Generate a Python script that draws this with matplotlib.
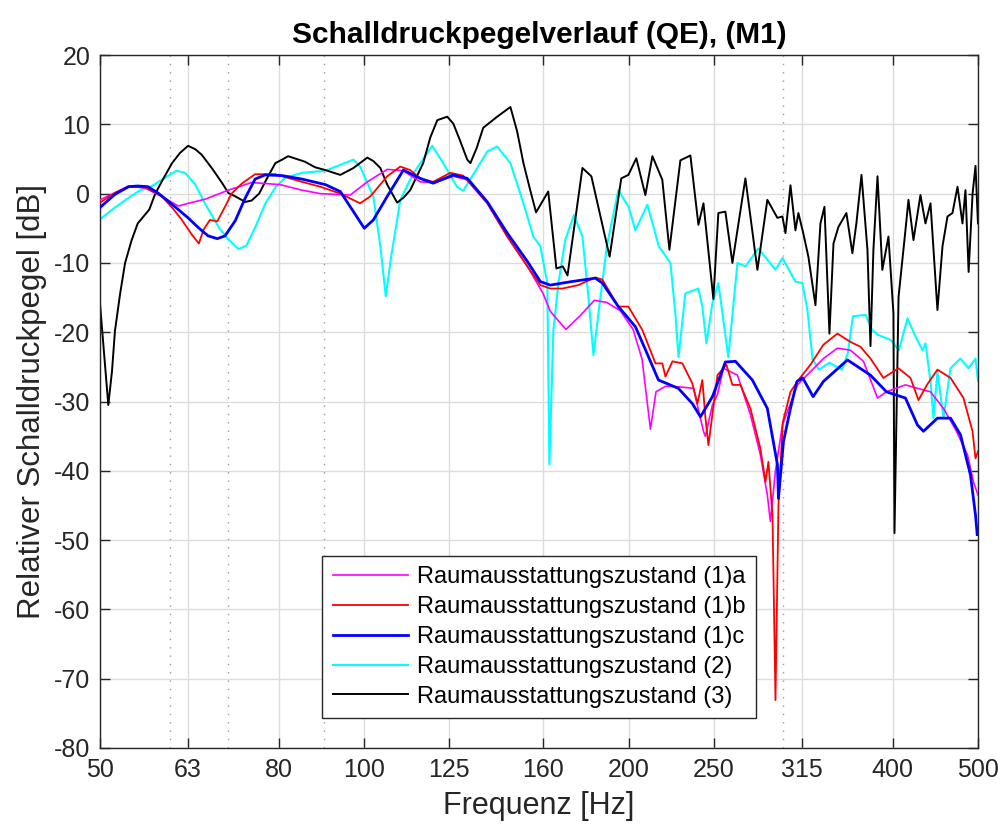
import matplotlib
matplotlib.use("Agg")
import matplotlib.pyplot as plt
from matplotlib.ticker import NullLocator

# Fonts (MATLAB look -> Arial-like)
plt.rcParams['font.family'] = ['Liberation Sans', 'DejaVu Sans']
plt.rcParams['axes.unicode_minus'] = False

# ---- Data (frequency in Hz, level in dB) ----
f_1a = [50.0, 53.9, 56.3, 58.8, 61.4, 63.0, 65.9, 70.0, 74.4, 80.2, 84.9, 89.1, 96.4, 100.8,
        106.2, 110.8, 115.8, 119.8, 126.3, 131.0, 138.1, 145.5, 153.4, 159.8, 162.9, 169.7,
        176.2, 182.8, 188.9, 195.7, 202.4, 207.2, 211.8, 214.9, 220.3, 229.1, 237.1, 243.4,
        244.6, 249.2, 252.5, 256.5, 266.1, 275.3, 282.6, 287.8, 290.1, 294.0, 299.4, 311.4,
        322.2, 333.4, 345.9, 357.9, 370.3, 384.2, 393.3, 413.4, 426.7, 441.5, 456.8, 472.6,
        486.5, 494.2, 500.0]
db_1a = [-0.9, 1.1, 0.8, -0.4, -1.8, -1.4, -0.8, 0.5, 1.6, 1.3, 0.5, 0.0, -0.2, 1.7,
         3.5, 3.3, 1.7, 1.6, 2.5, 2.0, -1.4, -6.2, -10.5, -14.4, -17.0, -19.6,
         -17.6, -15.4, -15.7, -16.9, -19.6, -23.9, -34.0, -28.6, -27.8, -27.9, -28.1, -34.3,
         -35.0, -30.5, -29.0, -25.2, -26.2, -31.9, -37.7, -43.5, -47.3, -40.0, -33.4, -27.6,
         -25.7, -23.8, -22.3, -22.6, -24.2, -29.5, -28.6, -27.6, -28.1, -28.6, -31.0, -34.3,
         -37.7, -41.6, -43.5]

f_1b = [50.0, 52.0, 53.9, 56.3, 58.8, 60.4, 61.9, 63.6, 64.8, 65.6, 66.7, 68.0, 69.4, 70.6,
        72.6, 75.1, 79.2, 84.9, 89.1, 93.9, 98.9, 101.6, 106.2, 109.9, 112.8, 115.8, 119.8,
        125.3, 129.6, 138.1, 145.5, 153.4, 158.7, 162.9, 168.1, 175.3, 183.3, 186.7, 194.7,
        199.9, 207.4, 214.6, 218.5, 220.3, 224.4, 230.3, 236.4, 239.6, 242.7, 244.6, 246.6,
        252.5, 258.5, 262.6, 268.2, 275.3, 282.6, 286.4, 288.6, 291.7, 294.0, 296.3, 299.7,
        305.8, 312.2, 322.2, 333.4, 345.9, 357.9, 367.4, 377.2, 390.2, 405.9, 418.9, 427.8,
        437.4, 449.6, 465.3, 481.4, 492.9, 496.8, 500.0]
db_1b = [-1.3, 0.1, 1.0, 0.9, -0.4, -2.0, -3.7, -5.9, -7.2, -5.2, -3.8, -4.0, -1.9, 0.0,
         1.5, 2.8, 2.8, 1.7, 1.0, 0.0, -1.4, -0.4, 2.5, 3.9, 3.4, 2.2, 1.7,
         3.0, 2.6, -1.4, -6.2, -10.5, -13.2, -13.7, -13.7, -13.2, -12.1, -12.4, -16.3,
         -16.3, -19.7, -24.5, -24.5, -26.4, -24.2, -24.5, -27.4, -30.3, -26.9, -32.2, -36.3,
         -26.2, -24.7, -27.6, -27.6, -31.0, -36.8, -41.6, -38.7, -46.4, -73.1, -45.0, -33.0,
         -28.6, -26.9, -24.7, -21.8, -20.2, -21.4, -22.1, -23.8, -26.6, -25.2, -26.6, -29.8,
         -27.6, -25.4, -26.6, -29.5, -34.3, -38.2, -37.2]

f_1c = [50.0, 52.0, 53.9, 55.2, 56.7, 58.2, 59.8, 61.4, 63.0, 64.7, 66.4, 68.0, 69.4, 71.3,
        73.2, 75.1, 77.1, 80.6, 84.9, 90.3, 93.9, 97.2, 100.0, 102.4, 106.2, 110.8, 115.8,
        119.8, 126.3, 131.0, 138.1, 145.5, 153.4, 158.7, 162.9, 172.1, 183.3, 186.7, 194.7,
        203.6, 209.0, 216.3, 227.9, 236.4, 241.5, 249.2, 257.8, 264.7, 276.7, 287.8, 295.5,
        296.3, 300.2, 305.8, 311.0, 315.8, 324.5, 333.4, 355.1, 377.2, 393.3, 413.4, 426.7,
        433.4, 449.6, 465.3, 477.6, 490.3, 496.8, 499.0]
db_1c = [-2.0, -0.1, 1.0, 1.1, 1.0, 0.1, -1.1, -2.3, -3.5, -4.9, -6.1, -6.5, -6.1, -3.9,
         -0.6, 2.1, 2.7, 2.6, 2.1, 1.3, 0.3, -2.6, -5.0, -3.8, -0.4, 3.4, 2.2,
         1.5, 2.7, 2.2, -1.2, -5.7, -9.8, -12.7, -13.2, -12.7, -12.2, -12.9, -16.3,
         -19.2, -22.5, -26.9, -28.1, -30.3, -32.2, -29.3, -24.3, -24.2, -26.9, -31.0, -39.1,
         -44.0, -35.8, -31.0, -27.1, -26.6, -29.3, -27.1, -24.0, -26.2, -28.6, -29.5, -33.4,
         -34.3, -32.4, -32.4, -34.8, -40.6, -46.4, -49.2]

f_2 = [50.0, 52.0, 53.9, 55.4, 57.3, 59.3, 61.1, 62.5, 64.2, 65.9, 68.3, 70.0, 71.9, 73.4,
       75.1, 77.1, 79.2, 81.3, 84.9, 90.3, 97.2, 98.9, 102.4, 104.3, 105.8, 107.3, 109.9,
       113.7, 119.5, 123.0, 127.5, 129.6, 132.7, 138.1, 141.7, 146.7, 151.8, 155.8, 158.7,
       161.6, 162.5, 164.2, 166.4, 169.4, 173.3, 177.2, 180.0, 182.4, 184.8, 188.9, 194.7,
       200.0, 203.6, 210.1, 216.5, 223.2, 226.1, 228.0, 232.1, 240.2, 242.7, 245.3, 249.2,
       253.1, 259.8, 266.1, 271.7, 281.1, 294.0, 299.4, 309.8, 315.4, 319.7, 324.0, 329.5,
       338.7, 344.1, 350.1, 355.5, 360.2, 372.3, 378.9, 385.0, 397.5, 406.4, 415.6, 424.4,
       432.3, 435.7, 441.5, 445.0, 449.6, 456.8, 465.3, 477.6, 487.7, 496.8, 500.0]
db_2 = [-3.7, -2.0, -0.6, 0.4, 1.1, 2.3, 3.3, 3.0, 1.3, -1.5, -4.9, -6.6, -8.0, -7.5,
        -4.9, -1.5, 0.9, 2.3, 3.0, 3.3, 4.9, 3.9, -0.4, -7.6, -14.8, -9.1, -0.9,
        2.9, 6.9, 4.4, 1.0, 0.4, 2.5, 6.1, 6.8, 4.4, -1.4, -6.2, -7.6,
        -12.9, -39.1, -19.7, -12.9, -6.7, -3.1, -6.2, -14.9, -23.3, -17.3, -7.6, 0.5,
        -1.9, -5.3, -1.6, -7.6, -10.0, -17.3, -23.6, -14.4, -13.7, -16.3, -21.6, -15.8,
        -12.9, -23.6, -10.0, -10.5, -7.9, -11.0, -9.3, -12.7, -12.9, -16.8, -23.9, -25.4,
        -24.4, -24.9, -25.4, -23.0, -17.7, -17.5, -19.7, -20.4, -21.1, -22.6, -18.0, -20.6,
        -22.6, -21.6, -27.1, -32.4, -25.7, -32.4, -25.2, -23.8, -25.2, -23.8, -27.0]

f_3 = [50.0, 51.1, 51.6, 52.0, 52.7, 53.4, 54.3, 55.2, 56.9, 57.8, 59.0, 60.4, 61.7, 63.0,
       64.2, 65.3, 67.2, 68.9, 70.0, 71.3, 73.2, 74.4, 75.9, 77.4, 79.2, 80.6, 81.9, 85.6,
       87.9, 90.3, 93.9, 97.2, 100.8, 102.4, 104.3, 106.2, 109.0, 110.8, 112.8, 116.7, 118.9,
       121.1, 124.3, 126.3, 128.6, 131.0, 132.1, 134.3, 136.6, 141.7, 146.7, 149.3, 151.8,
       154.6, 156.9, 162.0, 165.5, 168.3, 170.4, 177.2, 181.4, 190.3, 196.2, 199.9, 204.1,
       209.0, 212.9, 218.5, 222.6, 229.1, 235.2, 240.2, 243.4, 249.8, 253.1, 257.8, 262.6,
       271.7, 280.4, 287.8, 295.5, 299.4, 301.8, 305.8, 309.8, 312.2, 316.2, 320.5, 326.5,
       330.8, 334.3, 338.7, 342.3, 346.8, 354.1, 359.7, 363.5, 368.4, 374.2, 377.2, 380.1,
       384.2, 389.1, 395.4, 400.6, 401.7, 406.0, 413.4, 416.7, 422.2, 430.0, 435.7, 441.5,
       449.6, 455.6, 461.6, 467.7, 473.9, 480.1, 483.9, 487.9, 493.0, 496.8, 500.0]
db_3 = [-15.9, -30.5, -25.6, -19.8, -14.5, -10.0, -6.8, -4.3, -2.3, 0.0, 2.1, 4.4, 5.9, 6.9,
        6.4, 5.6, 3.5, 1.5, 0.1, -0.4, -1.2, -1.0, 0.0, 2.1, 4.4, 4.9, 5.4, 4.6,
        3.8, 3.4, 2.7, 3.7, 5.2, 4.7, 3.7, 1.3, -1.3, -0.6, 0.5, 4.4, 8.1,
        10.6, 11.1, 10.1, 7.6, 4.9, 4.4, 6.6, 9.5, 11.1, 12.5, 9.0, 4.4,
        0.4, -2.7, 0.3, -10.8, -10.5, -11.8, 3.7, 2.5, -9.1, 2.2, 2.7, 5.1,
        -0.2, 5.4, 2.0, -8.1, 4.8, 5.5, -4.5, -1.4, -15.2, -2.8, -2.6, -10.0,
        2.2, -11.0, -0.9, -3.5, -3.3, -5.7, 1.2, -5.3, -2.8, -5.7, -9.1, -16.1,
        -4.3, -1.9, -20.2, -7.2, -4.8, -2.8, -8.6, -4.3, 2.7, -8.1, -22.0, -8.1,
        2.5, -11.0, -6.2, -17.3, -49.0, -14.9, -5.3, -0.9, -6.7, -0.2, -4.3, -1.4,
        -16.8, -7.6, -3.3, -2.8, 1.0, -4.3, 0.5, -11.3, 0.0, 4.0, -4.3]

labels = ['Raumausstattungszustand (1)a', 'Raumausstattungszustand (1)b',
          'Raumausstattungszustand (1)c', 'Raumausstattungszustand (2)',
          'Raumausstattungszustand (3)']

# Third-octave ticks and marked frequencies (dotted lines)
x_ticks = [50, 63, 80, 100, 125, 160, 200, 250, 315, 400, 500]
marked_freqs = [60, 70, 90, 300]
y_ticks = list(range(-80, 21, 10))

text_col = '#262626'

# Plot
fig = plt.figure(figsize=(10.02, 8.35), dpi=100)
ax = fig.add_axes([0.0998, 0.1042, 0.8762, 0.8299])

for f in marked_freqs:
    ax.axvline(f, color='#9a9a9a', linestyle=(0, (1, 5)), linewidth=1.0, zorder=1)

ax.plot(f_1a, db_1a, color='#ff00ff', linewidth=1.2, label=labels[0], zorder=3)
ax.plot(f_1b, db_1b, color='#ff0000', linewidth=1.3, label=labels[1], zorder=4)
ax.plot(f_1c, db_1c, color='#0000ff', linewidth=2.0, label=labels[2], zorder=5)
ax.plot(f_2, db_2, color='#00ffff', linewidth=1.5, label=labels[3], zorder=2)
ax.plot(f_3, db_3, color='#000000', linewidth=1.4, label=labels[4], zorder=2.5)

# Axes setup
ax.set_xscale('log')
ax.set_xlim(50, 500)
ax.set_ylim(-80, 20)
ax.set_xticks(x_ticks)
ax.set_xticklabels([str(t) for t in x_ticks])
ax.xaxis.set_minor_locator(NullLocator())
ax.set_yticks(y_ticks)

ax.grid(True, color='#dcdcdc', linewidth=1.0)
ax.set_axisbelow(True)

ax.tick_params(direction='in', top=True, right=True, length=7, width=1,
               labelsize=18, colors=text_col, pad=7)
for sp in ax.spines.values():
    sp.set_color(text_col)
    sp.set_linewidth(1.0)

ax.set_xlabel('Frequenz [Hz]', fontsize=22, color=text_col, labelpad=7)
ax.set_ylabel('Relativer Schalldruckpegel [dB]', fontsize=22.5, color=text_col, labelpad=5)
ax.set_title('Schalldruckpegelverlauf (QE), (M1)', fontsize=21.5, fontweight='bold', pad=9)

leg = ax.legend(loc='lower center', bbox_to_anchor=(0.5, 0.043), fontsize=17,
                fancybox=False, framealpha=1, edgecolor=text_col, labelspacing=0.33,
                handlelength=3.2, handletextpad=0.35, borderpad=0.45, borderaxespad=0)
leg.get_frame().set_linewidth(1.0)

plt.savefig("out.png", dpi=100)
plt.close()
